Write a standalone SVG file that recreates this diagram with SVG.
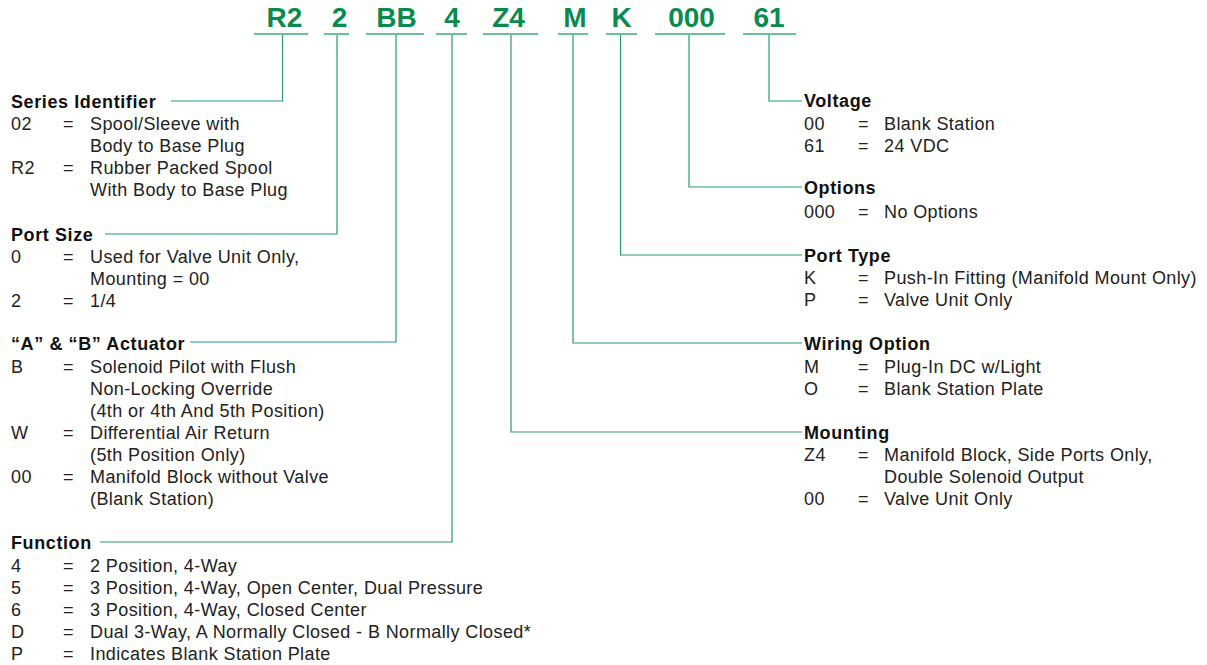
<svg xmlns="http://www.w3.org/2000/svg" width="1207" height="665" viewBox="0 0 1207 665">
<style>
.code{font-family:"Liberation Sans",Arial,sans-serif;font-weight:bold;font-size:28px;fill:#0b8a50;text-anchor:middle}
.ul{stroke:#6cbf97;stroke-width:2;fill:none}
.h{font-family:"Liberation Sans",Arial,sans-serif;font-weight:bold;font-size:18px;letter-spacing:0.6px;fill:#111}
.t{font-family:"Liberation Sans",Arial,sans-serif;font-size:18px;letter-spacing:0.4px;fill:#222}
.c{stroke:#2b9a6a;stroke-width:1.2;fill:none}
</style>
<rect width="1207" height="665" fill="#fff"/>

<g id="codes">
  <g id="code-R2"><text class="code" x="284.5" y="27">R2</text><line class="ul" x1="254" y1="34" x2="308" y2="34"/></g>
  <g id="code-2"><text class="code" x="339.5" y="27">2</text><line class="ul" x1="324" y1="34" x2="349" y2="34"/></g>
  <g id="code-BB"><text class="code" x="396.5" y="27">BB</text><line class="ul" x1="366" y1="34" x2="424" y2="34"/></g>
  <g id="code-4"><text class="code" x="452" y="27">4</text><line class="ul" x1="436" y1="34" x2="467" y2="34"/></g>
  <g id="code-Z4"><text class="code" x="508.5" y="27">Z4</text><line class="ul" x1="483" y1="34" x2="538" y2="34"/></g>
  <g id="code-M"><text class="code" x="575" y="27">M</text><line class="ul" x1="558" y1="34" x2="588" y2="34"/></g>
  <g id="code-K"><text class="code" x="621.5" y="27">K</text><line class="ul" x1="606" y1="34" x2="637" y2="34"/></g>
  <g id="code-000"><text class="code" x="691.5" y="27">000</text><line class="ul" x1="655" y1="34" x2="725" y2="34"/></g>
  <g id="code-61"><text class="code" x="769" y="27">61</text><line class="ul" x1="743" y1="34" x2="796" y2="34"/></g>
</g>

<g id="connectors">
  <path class="c" d="M282.5 35 V101 H171"/>
  <path class="c" d="M337 35 V234 H105"/>
  <path class="c" d="M396 35 V342 H190"/>
  <path class="c" d="M452 35 V542 H100"/>
  <path class="c" d="M511 35 V432 H802"/>
  <path class="c" d="M573 35 V343 H802"/>
  <path class="c" d="M620.5 35 V255 H802"/>
  <path class="c" d="M689 35 V187 H802"/>
  <path class="c" d="M769 35 V101 H802"/>
</g>

<g id="series-identifier">
  <text class="h" x="11" y="108">Series Identifier</text>
  <text class="t" x="11" y="130">02</text><text class="t" x="63" y="130">=</text><text class="t" x="90" y="130">Spool/Sleeve with</text>
  <text class="t" x="90" y="152">Body to Base Plug</text>
  <text class="t" x="11" y="174">R2</text><text class="t" x="63" y="174">=</text><text class="t" x="90" y="174">Rubber Packed Spool</text>
  <text class="t" x="90" y="196">With Body to Base Plug</text>
</g>

<g id="port-size">
  <text class="h" x="11" y="241">Port Size</text>
  <text class="t" x="11" y="263">0</text><text class="t" x="63" y="263">=</text><text class="t" x="90" y="263">Used for Valve Unit Only,</text>
  <text class="t" x="90" y="285">Mounting = 00</text>
  <text class="t" x="11" y="307">2</text><text class="t" x="63" y="307">=</text><text class="t" x="90" y="307">1/4</text>
</g>

<g id="actuator">
  <text class="h" x="11" y="350">“A” &amp; “B” Actuator</text>
  <text class="t" x="11" y="373">B</text><text class="t" x="63" y="373">=</text><text class="t" x="90" y="373">Solenoid Pilot with Flush</text>
  <text class="t" x="90" y="395">Non-Locking Override</text>
  <text class="t" x="90" y="417">(4th or 4th And 5th Position)</text>
  <text class="t" x="11" y="439">W</text><text class="t" x="63" y="439">=</text><text class="t" x="90" y="439">Differential Air Return</text>
  <text class="t" x="90" y="461">(5th Position Only)</text>
  <text class="t" x="11" y="483">00</text><text class="t" x="63" y="483">=</text><text class="t" x="90" y="483">Manifold Block without Valve</text>
  <text class="t" x="90" y="505">(Blank Station)</text>
</g>

<g id="function">
  <text class="h" x="11" y="549">Function</text>
  <text class="t" x="11" y="572">4</text><text class="t" x="63" y="572">=</text><text class="t" x="90" y="572">2 Position, 4-Way</text>
  <text class="t" x="11" y="594">5</text><text class="t" x="63" y="594">=</text><text class="t" x="90" y="594">3 Position, 4-Way, Open Center, Dual Pressure</text>
  <text class="t" x="11" y="616">6</text><text class="t" x="63" y="616">=</text><text class="t" x="90" y="616">3 Position, 4-Way, Closed Center</text>
  <text class="t" x="11" y="638">D</text><text class="t" x="63" y="638">=</text><text class="t" x="90" y="638">Dual 3-Way, A Normally Closed - B Normally Closed*</text>
  <text class="t" x="11" y="660">P</text><text class="t" x="63" y="660">=</text><text class="t" x="90" y="660">Indicates Blank Station Plate</text>
</g>

<g id="voltage">
  <text class="h" x="804" y="107">Voltage</text>
  <text class="t" x="804" y="130">00</text><text class="t" x="858" y="130">=</text><text class="t" x="884" y="130">Blank Station</text>
  <text class="t" x="804" y="152">61</text><text class="t" x="858" y="152">=</text><text class="t" x="884" y="152">24 VDC</text>
</g>

<g id="options">
  <text class="h" x="804" y="194">Options</text>
  <text class="t" x="804" y="218">000</text><text class="t" x="858" y="218">=</text><text class="t" x="884" y="218">No Options</text>
</g>

<g id="port-type">
  <text class="h" x="804" y="262">Port Type</text>
  <text class="t" x="804" y="284">K</text><text class="t" x="858" y="284">=</text><text class="t" x="884" y="284">Push-In Fitting (Manifold Mount Only)</text>
  <text class="t" x="804" y="306">P</text><text class="t" x="858" y="306">=</text><text class="t" x="884" y="306">Valve Unit Only</text>
</g>

<g id="wiring-option">
  <text class="h" x="804" y="350">Wiring Option</text>
  <text class="t" x="804" y="373">M</text><text class="t" x="858" y="373">=</text><text class="t" x="884" y="373">Plug-In DC w/Light</text>
  <text class="t" x="804" y="395">O</text><text class="t" x="858" y="395">=</text><text class="t" x="884" y="395">Blank Station Plate</text>
</g>

<g id="mounting">
  <text class="h" x="804" y="439">Mounting</text>
  <text class="t" x="804" y="461">Z4</text><text class="t" x="858" y="461">=</text><text class="t" x="884" y="461">Manifold Block, Side Ports Only,</text>
  <text class="t" x="884" y="483">Double Solenoid Output</text>
  <text class="t" x="804" y="505">00</text><text class="t" x="858" y="505">=</text><text class="t" x="884" y="505">Valve Unit Only</text>
</g>
</svg>
